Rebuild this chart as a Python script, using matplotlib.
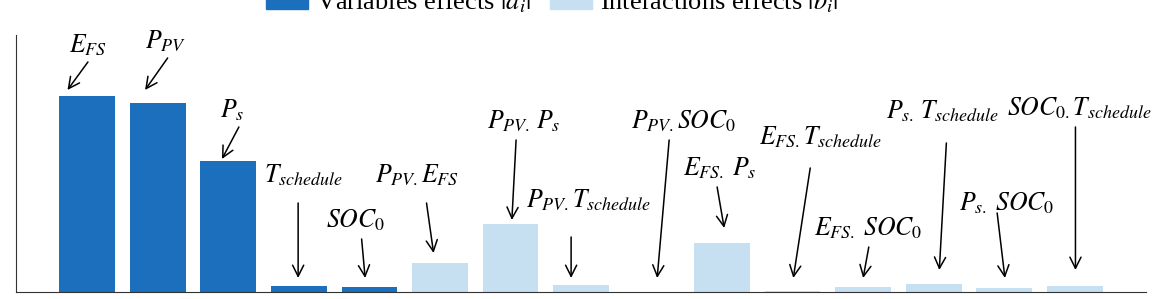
import matplotlib
matplotlib.use("Agg")
import matplotlib.pyplot as plt
from matplotlib.patches import Patch

plt.rcParams["font.family"] = ["Liberation Serif", "DejaVu Serif"]
plt.rcParams["mathtext.fontset"] = "stix"

# effect magnitudes (arbitrary units)
labels = [
    r"$E_{FS}$", r"$P_{PV}$", r"$P_s$", r"$T_{schedule}$", r"$SOC_{\mathit{0}}$",
    r"$P_{PV.}E_{FS}$", r"$P_{PV.}\,P_s$", r"$P_{PV.}T_{schedule}$", r"$P_{PV.}SOC_{\mathit{0}}$",
    r"$E_{FS.}\;P_s$", r"$E_{FS.}T_{schedule}$", r"$E_{FS.}\;SOC_{\mathit{0}}$",
    r"$P_{s.}\,T_{schedule}$", r"$P_{s.}\;SOC_{\mathit{0}}$", r"$SOC_{\mathit{0}.}T_{schedule}$",
]
values = [196, 189, 131, 6, 5, 29, 68, 7, 0.3, 49, 1.3, 4.7, 8.3, 3.7, 5.7]
is_variable = [True] * 5 + [False] * 10

# label placement: text centre, arrow start, arrow tip (data coords)
text_pos = [(0.01, 247), (1.11, 251), (2.05, 182), (3.07, 117), (3.81, 72),
            (4.67, 117), (6.19, 171), (7.10, 92), (8.46, 171), (8.97, 124),
            (10.40, 155), (11.07, 64), (12.13, 181), (13.03, 89), (14.06, 184)]
arrow_from = [(0.01, 230), (1.14, 234), (2.15, 165), (2.99, 89), (3.89, 53),
              (4.81, 89), (6.08, 152), (6.86, 55), (8.25, 152), (8.93, 105),
              (10.25, 124), (11.08, 45), (12.18, 149), (12.90, 79), (14.01, 165)]
arrow_to = [(-0.28, 202), (0.82, 202), (1.91, 133), (2.99, 14), (3.94, 14),
            (4.91, 39), (6.02, 72), (6.86, 14), (8.08, 14), (9.03, 64),
            (10.01, 14), (11.00, 14), (12.08, 22), (13.01, 14), (14.01, 22)]

dark = "#1c6fbd"
light = "#c6dff1"

fig = plt.figure(figsize=(11.67, 2.99), dpi=100)
ax = fig.add_axes([0.0137, 0.0234, 0.9683, 0.8596])

xs = list(range(len(values)))
colors = [dark if v else light for v in is_variable]
ax.bar(xs, values, width=0.79, color=colors, zorder=2)

for lab, tp, a0, a1 in zip(labels, text_pos, arrow_from, arrow_to):
    ax.text(tp[0], tp[1], lab, ha="center", va="center", fontsize=18.5)
    ax.annotate(
        "", xy=a1, xytext=a0,
        arrowprops=dict(arrowstyle="->", color="black", lw=1.1,
                        mutation_scale=20, shrinkA=0, shrinkB=0),
    )

ax.set_xlim(-1.01, 15.01)
ax.set_ylim(0, 257)
ax.set_xticks([])
ax.set_yticks([])
for side in ("top", "right"):
    ax.spines[side].set_visible(False)
for side in ("left", "bottom"):
    ax.spines[side].set_linestyle((0, (2, 1)))
    ax.spines[side].set_linewidth(0.8)
    ax.spines[side].set_color("#333333")

handles = [Patch(color=dark), Patch(color=light)]
fig.legend(
    handles, [r"Variables effects $|a_i|$", r"Interactions effects $|b_i|$"],
    loc="center", bbox_to_anchor=(0.473, 0.997), ncol=2, frameon=False,
    fontsize=19, handlelength=1.6, handletextpad=0.3, columnspacing=0.7,
)

fig.savefig("out.png", dpi=100)
